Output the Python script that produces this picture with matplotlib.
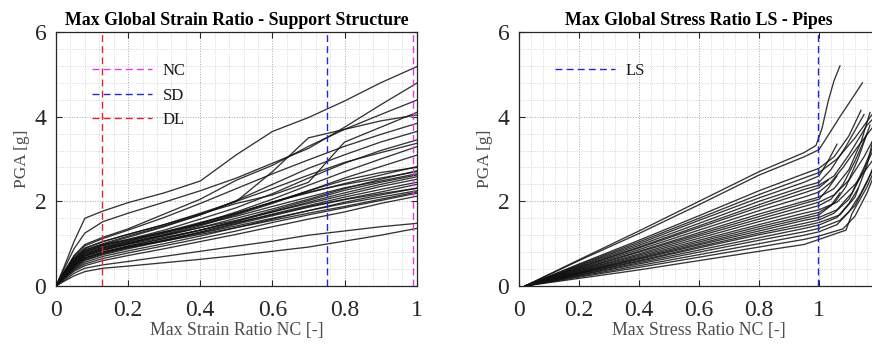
import numpy as np
import matplotlib
matplotlib.use("Agg")
import matplotlib.pyplot as plt
from matplotlib.ticker import MultipleLocator, FuncFormatter

plt.rcParams['font.family'] = ['Liberation Serif', 'DejaVu Serif']

# ============================================================================
# DATA - left panel (strain ratio, support structure)
# ============================================================================
X_STRAIN = [0, 0.02, 0.05, 0.08, 0.13, 0.2, 0.3, 0.4, 0.5, 0.6, 0.7, 0.8, 0.9, 1.0]

PGA_STRAIN = [
    [0, .40, 1.05, 1.60, 1.77, 1.97, 2.20, 2.48, 3.10, 3.65, 3.98, 4.37, 4.80, 5.18],
    [0, .36, .88, 1.25, 1.52, 1.72, 1.98, 2.25, 2.55, 2.90, 3.25, 3.75, 4.28, 4.79],
    [0, .30, .72, .98, 1.15, 1.35, 1.70, 2.05, 2.50, 2.85, 3.30, 3.70, 4.05, 4.39],
    [0, .28, .65, .88, 1.05, 1.22, 1.45, 1.70, 1.95, 2.15, 2.45, 3.40, 3.75, 4.10],
    [0, .27, .62, .85, 1.00, 1.18, 1.42, 1.68, 2.00, 2.70, 3.50, 3.70, 3.90, 4.04],
    [0, .30, .70, .95, 1.12, 1.32, 1.62, 1.95, 2.30, 2.65, 2.98, 3.30, 3.58, 3.84],
    [0, .26, .60, .82, .98, 1.15, 1.40, 1.68, 2.02, 2.40, 2.78, 3.10, 3.40, 3.65],
    [0, .25, .58, .80, .95, 1.10, 1.32, 1.58, 1.85, 2.18, 2.55, 2.90, 3.20, 3.45],
    [0, .28, .66, .90, 1.05, 1.22, 1.45, 1.72, 2.00, 2.30, 2.62, 2.92, 3.15, 3.37],
    [0, .24, .55, .75, .90, 1.05, 1.25, 1.48, 1.75, 2.05, 2.38, 2.70, 3.00, 3.29],
    [0, .22, .50, .70, .85, 1.00, 1.20, 1.42, 1.68, 1.95, 2.25, 2.55, 2.82, 3.09],
    [0, .25, .58, .80, .95, 1.08, 1.28, 1.50, 1.72, 1.98, 2.20, 2.42, 2.62, 2.82],
    [0, .22, .52, .72, .86, 1.00, 1.18, 1.38, 1.60, 1.82, 2.05, 2.30, 2.52, 2.72],
    [0, .26, .62, .85, .98, 1.10, 1.28, 1.45, 1.65, 1.88, 2.10, 2.32, 2.48, 2.65],
    [0, .20, .48, .66, .80, .95, 1.12, 1.32, 1.52, 1.75, 1.98, 2.20, 2.40, 2.58],
    [0, .23, .55, .75, .90, 1.02, 1.20, 1.38, 1.55, 1.75, 1.95, 2.15, 2.35, 2.52],
    [0, .18, .44, .62, .76, .90, 1.08, 1.28, 1.48, 1.70, 1.90, 2.10, 2.28, 2.45],
    [0, .21, .50, .70, .84, .98, 1.15, 1.32, 1.50, 1.68, 1.88, 2.05, 2.22, 2.40],
    [0, .17, .40, .56, .70, .83, 1.00, 1.18, 1.38, 1.58, 1.78, 1.98, 2.15, 2.31],
    [0, .19, .46, .64, .78, .92, 1.08, 1.25, 1.42, 1.60, 1.78, 1.95, 2.10, 2.25],
    [0, .16, .38, .52, .65, .78, .95, 1.12, 1.30, 1.50, 1.68, 1.85, 2.02, 2.19],
    [0, .15, .35, .48, .60, .72, .88, 1.05, 1.22, 1.40, 1.58, 1.75, 1.95, 2.12],
    [0, .20, .48, .66, .80, .92, 1.06, 1.22, 1.38, 1.55, 1.72, 1.88, 2.05, 2.22],
    [0, .22, .52, .72, .88, 1.02, 1.22, 1.45, 1.70, 1.98, 2.25, 2.50, 2.68, 2.80],
    [0, .24, .56, .78, .92, 1.06, 1.26, 1.48, 1.72, 1.98, 2.22, 2.40, 2.55, 2.70],
    [0, .18, .42, .60, .74, .88, 1.06, 1.26, 1.46, 1.66, 1.86, 2.04, 2.18, 2.31],
    [0, .20, .47, .66, .80, .94, 1.12, 1.32, 1.54, 1.78, 2.02, 2.26, 2.45, 2.62],
    [0, .12, .30, .42, .50, .58, .70, .82, .94, 1.06, 1.20, 1.30, 1.40, 1.48],
    [0, .10, .24, .34, .42, .47, .55, .63, .72, .82, .92, 1.06, 1.20, 1.36],
]

LIMITS_STRAIN = [0.99, 0.75, 0.127]          # NC, SD, DL
LIMIT_NAMES_STRAIN = ['NC', 'SD', 'DL']
LIMIT_COLORS_STRAIN = ['#e03ce0', '#2626cc', '#e02828']

# ============================================================================
# DATA - right panel (stress ratio, pipes)
# ============================================================================
X_STRESS = [
    [0.02, 0.2, 0.4, 0.6, 0.8, 0.95, 0.99, 1.01, 1.03, 1.05, 1.07],
    [0.02, 0.2, 0.4, 0.6, 0.8, 0.95, 1.0, 1.07, 1.145],
    [0.02, 0.2, 0.4, 0.6, 0.8, 0.95, 1.0, 1.05, 1.10, 1.14],
    [0.02, 0.2, 0.4, 0.6, 0.8, 0.95, 1.0, 1.06, 1.12, 1.18],
    [0.02, 0.2, 0.4, 0.6, 0.8, 0.95, 1.0, 1.03, 1.06],
    [0.02, 0.2, 0.4, 0.6, 0.8, 0.95, 1.0, 1.04, 1.09, 1.15],
    [0.02, 0.2, 0.4, 0.6, 0.8, 0.95, 1.0, 1.05, 1.10, 1.16, 1.18],
    [0.02, 0.2, 0.4, 0.6, 0.8, 0.95, 1.0, 1.03],
    [0.02, 0.2, 0.4, 0.6, 0.8, 0.95, 1.0, 1.04, 1.08, 1.13, 1.18],
    [0.02, 0.2, 0.4, 0.6, 0.8, 0.95, 1.0, 1.05, 1.10, 1.14, 1.17],
    [0.02, 0.2, 0.4, 0.6, 0.8, 0.95, 1.0, 1.03, 1.06],
    [0.02, 0.2, 0.4, 0.6, 0.8, 0.95, 1.0, 1.05, 1.10, 1.15, 1.18],
    [0.02, 0.2, 0.4, 0.6, 0.8, 0.95, 1.0, 1.04, 1.08, 1.12, 1.16],
    [0.02, 0.2, 0.4, 0.6, 0.8, 0.95, 1.0, 1.06, 1.12, 1.18],
    [0.02, 0.2, 0.4, 0.6, 0.8, 0.95, 1.0, 1.05, 1.09, 1.13, 1.17],
    [0.02, 0.2, 0.4, 0.6, 0.8, 0.95, 1.0, 1.04, 1.07],
    [0.02, 0.2, 0.4, 0.6, 0.8, 0.95, 1.0, 1.06, 1.11, 1.15, 1.18],
    [0.02, 0.2, 0.4, 0.6, 0.8, 0.95, 1.0, 1.05, 1.10, 1.14, 1.18],
    [0.02, 0.2, 0.4, 0.6, 0.8, 0.95, 1.0, 1.07, 1.12, 1.16, 1.18],
    [0.02, 0.2, 0.4, 0.6, 0.8, 0.95, 1.0, 1.06, 1.10, 1.13],
    [0.02, 0.2, 0.4, 0.6, 0.8, 0.95, 1.0, 1.07, 1.12, 1.16, 1.18],
    [0.02, 0.2, 0.4, 0.6, 0.8, 0.95, 1.0, 1.06, 1.10, 1.14, 1.18],
    [0.02, 0.2, 0.4, 0.6, 0.8, 0.95, 1.0, 1.08, 1.12, 1.16, 1.18],
    [0.02, 0.2, 0.4, 0.6, 0.8, 0.95, 1.0, 1.09, 1.11, 1.16, 1.18],
]

PGA_STRESS = [
    [0, 0.62, 1.30, 2.00, 2.70, 3.15, 3.32, 3.72, 4.35, 4.85, 5.20],
    [0, 0.60, 1.24, 1.92, 2.62, 3.05, 3.22, 4.00, 4.80],
    [0, 0.52, 1.08, 1.66, 2.25, 2.65, 2.78, 3.05, 3.55, 4.15],
    [0, 0.50, 1.04, 1.60, 2.16, 2.55, 2.68, 3.00, 3.50, 4.08],
    [0, 0.48, 1.00, 1.55, 2.08, 2.45, 2.60, 2.95, 3.35],
    [0, 0.46, 0.96, 1.48, 2.00, 2.35, 2.45, 2.75, 3.30, 4.05],
    [0, 0.44, 0.92, 1.42, 1.92, 2.28, 2.38, 2.60, 3.10, 3.80, 3.95],
    [0, 0.43, 0.90, 1.38, 1.86, 2.20, 2.32, 2.50],
    [0, 0.41, 0.86, 1.32, 1.78, 2.10, 2.22, 2.45, 2.80, 3.30, 3.76],
    [0, 0.39, 0.82, 1.26, 1.70, 2.00, 2.10, 2.30, 2.75, 3.40, 4.10],
    [0, 0.38, 0.80, 1.22, 1.64, 1.95, 2.05, 2.30, 2.60],
    [0, 0.36, 0.76, 1.18, 1.58, 1.88, 1.98, 2.15, 2.50, 3.05, 3.45],
    [0, 0.35, 0.73, 1.13, 1.52, 1.80, 1.90, 2.05, 2.40, 2.95, 3.60],
    [0, 0.33, 0.70, 1.08, 1.45, 1.72, 1.80, 1.98, 2.40, 2.98],
    [0, 0.32, 0.67, 1.04, 1.40, 1.65, 1.74, 1.95, 2.35, 3.00, 3.80],
    [0, 0.31, 0.65, 1.00, 1.35, 1.60, 1.68, 1.90, 2.20],
    [0, 0.30, 0.63, 0.97, 1.30, 1.55, 1.62, 1.80, 2.20, 2.80, 3.30],
    [0, 0.29, 0.60, 0.93, 1.25, 1.48, 1.56, 1.72, 2.05, 2.60, 3.20],
    [0, 0.28, 0.58, 0.90, 1.21, 1.42, 1.50, 1.68, 2.10, 2.85, 3.45],
    [0, 0.26, 0.55, 0.85, 1.14, 1.36, 1.44, 1.62, 1.95, 2.30],
    [0, 0.25, 0.52, 0.80, 1.08, 1.28, 1.36, 1.55, 1.90, 2.45, 2.80],
    [0, 0.23, 0.48, 0.74, 1.00, 1.20, 1.28, 1.45, 1.75, 2.20, 2.75],
    [0, 0.21, 0.44, 0.68, 0.92, 1.10, 1.18, 1.35, 1.65, 2.20, 2.55],
    [0, 0.18, 0.38, 0.60, 0.82, 0.98, 1.10, 1.32, 1.71, 2.34, 2.66],
]

LIMITS_STRESS = [0.995]
LIMIT_NAMES_STRESS = ['LS']
LIMIT_COLORS_STRESS = ['#2626cc']

# ============================================================================
# STYLE
# ============================================================================
FIG_W, FIG_H = 872, 345
TICK_COLOR = '#262626'
LABEL_COLOR = '#4d4d4d'
CURVE_COLOR = '#111111'


def fmt_x(v, pos):
    # the 1.2 label of the right panel falls outside the picture
    if v > 1.05:
        return ""
    return f"{v:g}"


def fmt_y(v, pos):
    return f"{v:g}"


def estilo_ejes(ax, xmax):
    """Caja tipo MATLAB con rejilla mayor y menor punteada."""
    ax.set_xlim(0, xmax)
    ax.set_ylim(0, 6)
    ax.xaxis.set_major_locator(MultipleLocator(0.2))
    ax.xaxis.set_minor_locator(MultipleLocator(0.04))
    ax.yaxis.set_major_locator(MultipleLocator(2))
    ax.yaxis.set_minor_locator(MultipleLocator(0.4))
    ax.xaxis.set_major_formatter(FuncFormatter(fmt_x))
    ax.yaxis.set_major_formatter(FuncFormatter(fmt_y))
    ax.tick_params(which='major', direction='in', length=4, width=0.8,
                   top=True, right=True, labelsize=17, colors=TICK_COLOR)
    ax.tick_params(axis='x', which='major', pad=10)
    ax.tick_params(axis='y', which='major', pad=7)
    ax.tick_params(which='minor', direction='in', length=0, top=True, right=True)
    ax.grid(True, which='major', linestyle=':', color='#a8a8a8', linewidth=0.7)
    ax.grid(True, which='minor', linestyle=':', color='#cccccc', linewidth=0.6)
    ax.set_axisbelow(True)
    for sp in ax.spines.values():
        sp.set_color(TICK_COLOR)
        sp.set_linewidth(0.9)


def dibujar_panel(ax, xs, curvas, limites, nombres, colores, titulo, xlabel, xmax):
    estilo_ejes(ax, xmax)
    for x, y in zip(xs, curvas):
        ax.plot(x, y, color=CURVE_COLOR, linewidth=0.95, alpha=0.85, zorder=3)

    handles = []
    for xv, nombre, color in zip(limites, nombres, colores):
        h = ax.axvline(xv, color=color, linewidth=1.0, dashes=(5, 3),
                       label=nombre, zorder=4)
        handles.append(h)

    leg = ax.legend(handles=handles, loc='upper left',
                    bbox_to_anchor=(36.0 / (ax.get_position().width * FIG_W), 0.878),
                    frameon=False, fontsize=12, handlelength=3.6,
                    handletextpad=0.65, labelspacing=0.52,
                    borderpad=0, borderaxespad=0)
    for t in leg.get_texts():
        t.set_color('#1a1a1a')

    ax.set_title(titulo, fontsize=12.8, fontweight='bold', pad=5)
    ax.set_xlabel(xlabel, fontsize=12.8, color=LABEL_COLOR, labelpad=1)
    ax.set_ylabel("PGA [g]", fontsize=12.5, color=LABEL_COLOR, labelpad=3)


def main():
    fig = plt.figure(figsize=(FIG_W / 100, FIG_H / 100), dpi=100)
    fig.patch.set_facecolor('white')

    bottom = 59 / FIG_H
    height = 254 / FIG_H

    ax1 = fig.add_axes([56 / FIG_W, bottom, 360.7 / FIG_W, height])
    ax2 = fig.add_axes([519 / FIG_W, bottom, 360.0 / FIG_W, height])

    xs_left = [X_STRAIN] * len(PGA_STRAIN)
    dibujar_panel(ax1, xs_left, PGA_STRAIN, LIMITS_STRAIN, LIMIT_NAMES_STRAIN,
                  LIMIT_COLORS_STRAIN, "Max Global Strain Ratio - Support Structure",
                  "Max Strain Ratio NC [-]", 1.0)
    dibujar_panel(ax2, X_STRESS, PGA_STRESS, LIMITS_STRESS, LIMIT_NAMES_STRESS,
                  LIMIT_COLORS_STRESS, "Max Global Stress Ratio LS - Pipes",
                  "Max Stress Ratio NC [-]", 1.2)

    fig.savefig("out.png", dpi=100)
    plt.close(fig)


if __name__ == "__main__":
    main()
